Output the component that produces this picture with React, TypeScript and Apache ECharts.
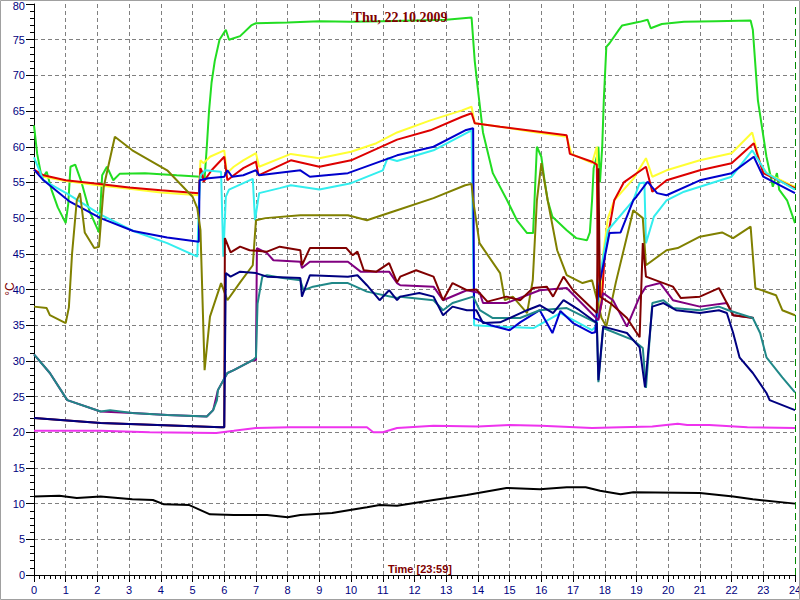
import React, { useEffect, useRef } from "react";
import * as echarts from "echarts";

type P = [number, number][];

const titleText = "Thu, 22.10.2009";
const xName = "Time [23:59]";
const yName = "°C";
const hourTicks = Array.from({ length: 25 }, (_, i) => i);
const yTopLabel = 80;

const green: P = [[0,63],[0.1,59],[0.25,55.5],[0.4,56.5],[0.55,54],[0.75,51.5],[1.0,49.3],[1.08,52],[1.15,57.2],[1.3,57.5],[1.5,55],[1.75,51],[2.05,48],[2.15,56],[2.3,57.2],[2.5,55.3],[2.7,56.2],[3.5,56.3],[4.5,56],[5.25,55.8],[5.38,55.6],[5.45,60],[5.52,65],[5.6,69],[5.7,72],[5.85,75],[6.05,76.4],[6.15,75],[6.5,75.5],[6.85,77],[7.0,77.3],[8,77.4],[9,77.6],[10,77.5],[11,77.6],[12,77.7],[13,77.8],[13.8,78.1],[13.9,72],[14.0,68],[14.16,62],[14.47,56.3],[14.92,52.5],[15.23,49.7],[15.55,47.9],[15.74,47.9],[15.8,54],[15.86,60],[16.0,58.6],[16.1,55.3],[16.2,52.5],[16.35,50.2],[16.8,48.3],[17.1,47.2],[17.44,46.9],[17.53,48],[17.6,52.5],[17.65,57],[17.75,58.6],[17.8,60],[17.85,55],[17.92,60],[17.97,66.5],[18.05,74],[18.15,74.5],[18.45,76.4],[18.55,77],[19.1,77.5],[19.35,77.8],[19.45,76.6],[19.8,77.2],[20.5,77.5],[21.5,77.6],[22.6,77.7],[22.67,76.4],[22.83,66.5],[23.1,58.6],[23.3,54.4],[23.43,56.3],[23.5,54],[23.75,52.5],[24,49.3]];

const yellow: P = [[0,56.7],[0.3,55.8],[1,55.2],[2,54.6],[3,54.1],[4,53.6],[5.2,53.2],[5.25,58.1],[5.35,57.7],[5.55,58.6],[6.0,59.5],[6.08,56.3],[6.3,57.2],[6.6,58.1],[7.0,59.1],[7.1,57.2],[8.1,59],[9.0,58.4],[10.0,59.3],[10.8,60.5],[11.45,62],[12.5,63.7],[13.5,65.1],[13.8,65.6],[13.9,63.3],[14.7,62.8],[15.7,62.1],[16.8,61.4],[16.95,59],[17.6,57.7],[17.75,60],[17.82,40],[17.85,36],[17.95,45],[18.1,50],[18.3,52.5],[18.6,54],[18.9,55.5],[19.3,58.4],[19.5,55.8],[19.95,56.7],[21,58.1],[22.0,59.1],[22.65,62],[22.9,57.7],[23.1,56.3],[23.9,54.6],[24,54.4]];

const red: P = [[0,56.8],[0.3,56],[1,55.3],[2,54.8],[3,54.3],[4,53.9],[5.2,53.5],[5.25,57],[5.3,56.5],[5.35,55.1],[5.6,56.7],[6.0,58.6],[6.1,55.3],[6.3,56],[6.6,57],[7.0,57.9],[7.08,56],[8.1,58.1],[9.0,57.2],[10.0,58.1],[11.45,61],[12.5,62.3],[13.5,64.2],[13.8,64.7],[13.9,63.3],[14.7,62.8],[16.8,61.6],[16.9,59],[17.6,57.9],[17.75,57.5],[17.8,36],[17.9,38],[18.0,45],[18.3,52.5],[18.6,55],[19.3,57.2],[19.5,53.7],[19.95,55.3],[21,56.7],[22,57.7],[22.7,60.5],[23.0,56.3],[23.9,54.4],[24,54.2]];

const cyan: P = [[0,58.5],[0.3,55.3],[1.1,53.3],[2.1,50.5],[3.13,48.2],[4.2,46.5],[5.15,44.6],[5.2,52],[5.25,56],[5.4,56.7],[5.9,56.5],[5.97,44.6],[6.05,53],[6.15,54],[6.9,55.5],[6.97,49.7],[7.1,53.5],[7.75,54.2],[8.1,54.6],[9.0,54],[10.0,54.9],[11.0,56.7],[11.15,58.4],[11.45,58],[12.6,59.5],[13.8,62.3],[13.88,35],[14.6,34.8],[15.75,34.6],[16.6,36.7],[17.6,34.3],[17.75,35],[17.85,42],[18.1,48.3],[18.9,52.5],[19.1,54.9],[19.25,55],[19.3,46.5],[19.55,50.2],[19.95,52.5],[20.5,53.7],[22.0,55.8],[22.65,59.5],[23.1,56.3],[24,54]];

const blue: P = [[0,56.8],[0.3,55.3],[1.13,52.3],[2.1,50],[3.13,48.2],[4.2,47.3],[5.2,46.7],[5.22,55.3],[5.5,55.6],[6.0,55.8],[6.1,56.7],[6.25,55.8],[6.6,56],[7.0,56.7],[7.1,56],[8.4,56.7],[8.7,55.8],[9.9,56.3],[11.45,58.8],[12.6,60],[13.6,62.3],[13.85,62.6],[13.88,36],[14.4,35],[15.0,34.3],[15.33,35.4],[15.95,37.1],[16.35,33.9],[16.6,37],[17.0,35.3],[17.6,33.9],[17.7,34],[17.8,40],[18.15,47.9],[18.5,48],[18.9,52.5],[19.0,53],[19.35,55.1],[19.65,53.5],[19.95,53.2],[21,55.3],[22,56.3],[22.7,58.6],[23.0,55.8],[24,53.5]];

const olive: P = [[0,37.6],[0.4,37.4],[0.5,36.4],[1.0,35.3],[1.1,37.5],[1.2,45],[1.35,52.5],[1.45,53.5],[1.6,48],[1.9,45.8],[2.05,46],[2.12,50],[2.2,54.4],[2.55,61.4],[3.1,59.5],[4.2,56.7],[5.0,53],[5.15,51.4],[5.25,48.3],[5.38,28.7],[5.55,36.2],[5.9,40.9],[6.1,38.5],[6.5,41],[6.9,43.4],[7.0,49.7],[7.3,50],[8.4,50.4],[9.9,50.4],[10.5,49.7],[11.45,51.1],[12.6,52.8],[13.6,54.6],[13.8,54.8],[13.85,52.5],[14.05,46.5],[14.7,42.3],[14.85,38.5],[15.1,39],[15.55,36.7],[15.73,41.3],[15.86,52.5],[16.0,57.7],[16.2,52.5],[16.5,45.5],[16.8,42],[17.3,40.9],[17.6,41.3],[17.9,36],[18.05,34.8],[18.35,41],[18.9,51.1],[19.2,50],[19.3,43.4],[19.95,45.5],[20.3,45.8],[21.0,47.4],[21.7,48],[22.05,47.2],[22.6,48.8],[22.75,40.2],[23.4,39.2],[23.6,37.1],[24,36.4]];

const maroon: P = [[0,22],[2.1,21.3],[5.9,20.7],[6.0,20.7],[6.02,47.2],[6.2,45.2],[6.5,46],[6.8,45.5],[7.35,45.3],[7.75,46],[8.4,45.5],[8.45,43.4],[8.7,45.8],[9.85,45.8],[10.05,44.8],[10.2,45.3],[10.4,42.7],[10.8,42.5],[11.2,43.7],[11.45,41],[11.55,41.8],[12.05,42.7],[12.6,41.8],[12.9,38.5],[13.2,40.9],[13.65,39.9],[13.95,40],[14.3,38.3],[14.9,39],[15.33,38.5],[15.74,40.2],[16.17,40.4],[16.37,39],[16.7,41.8],[17.0,39.9],[17.75,36.7],[17.8,57],[17.85,39],[18.2,38],[18.7,36],[19.1,33.3],[19.2,46.5],[19.3,41.8],[19.85,40.9],[20.15,40.4],[20.4,38.8],[21,39],[21.6,40.2],[21.85,38.1],[22.05,36.4],[22.7,36]];

const purple: P = [[0,30.9],[0.5,28.3],[1.05,24.5],[2.1,22.9],[3.1,22.7],[4.2,22.4],[5.45,22.2],[5.65,23.1],[5.8,25.9],[6.1,28.3],[6.3,28.7],[6.9,30.1],[7.0,30.1],[7.03,45.8],[7.35,45.1],[7.55,44.1],[8.4,43.9],[8.45,43],[8.7,43.9],[9.9,43.9],[10.3,42.5],[11.2,42.5],[11.45,40.9],[11.55,40.6],[12.6,40.4],[12.9,38.5],[13.65,39.9],[14.06,39.5],[14.16,38.1],[14.9,38.1],[15.95,39.9],[16.8,40.2],[17.8,35.7],[17.95,39.5],[18.26,38.5],[18.7,34.8],[19.1,39],[19.3,40.4],[19.75,40.9],[20.15,38.5],[21,37.6],[21.85,38.1],[22.05,36.4],[22.7,36]];

const navy: P = [[0,22],[2.1,21.3],[5.9,20.7],[6.0,20.7],[6.05,42.3],[6.2,41.8],[6.5,42.5],[7.0,42.3],[7.35,41.8],[8.4,41.6],[8.45,39],[8.7,42],[9.9,41.8],[10.2,42],[10.5,40.6],[10.9,38.5],[11.2,39.9],[11.45,38.5],[11.55,39],[12.15,39.5],[12.6,39],[12.9,36.4],[13.2,37.6],[13.65,37.1],[13.95,37.1],[14.16,35.3],[14.7,35.4],[15.55,37.1],[15.95,37.8],[16.37,36.7],[16.7,38.5],[17.2,37.1],[17.75,35.3],[17.8,27.3],[17.95,34.8],[18.7,33.9],[19.1,31.9],[19.27,26.3],[19.5,37.6],[19.85,38.1],[20.25,37.1],[21,36.7],[21.6,37.1],[21.85,36.7],[22.05,33.9],[22.25,30.5],[22.67,28.3],[23.1,25.5],[23.2,24.5],[24,23.1]];

const teal: P = [[0,30.9],[0.5,28.3],[1.05,24.5],[2.1,22.9],[2.4,23.1],[3.1,22.7],[4.2,22.4],[5.45,22.2],[5.65,23.1],[5.77,24.5],[5.8,25.9],[6.1,28.3],[6.3,28.7],[6.9,30.1],[7.0,30.5],[7.05,38],[7.2,41.8],[7.35,42],[7.85,41.6],[8.4,41.3],[8.5,39.9],[8.8,40.4],[9.4,40.9],[9.9,40.9],[10.5,39.7],[11.45,38.8],[11.55,39],[12.6,38.5],[12.9,37.1],[13.2,38.1],[13.85,39],[14.06,37.1],[14.47,36],[15.33,36],[15.95,37.1],[16.8,37.4],[17.75,35.3],[17.8,27],[17.95,34.6],[18.9,32.9],[19.2,31.8],[19.3,26.2],[19.5,38.1],[19.85,38.5],[20.15,37.4],[21,37.1],[21.6,37.6],[21.9,37.1],[22.67,36],[22.9,33.9],[23.1,30.5],[23.6,27.7],[24,25.6]];

const magenta: P = [[0,20.2],[2.1,20.2],[3.65,20],[5.75,19.9],[6.3,20.2],[7.0,20.6],[8.05,20.7],[10.5,20.7],[10.7,20],[11.0,20],[11.45,20.6],[12.6,20.9],[14,20.8],[15,21],[16,20.9],[17.6,20.6],[18.5,20.7],[19.5,20.8],[20.3,21.2],[20.6,21],[21.3,21],[22.5,20.7],[24,20.6]];

const black: P = [[0,11],[0.8,11.1],[1.35,10.8],[2.1,11],[3.1,10.6],[3.75,10.5],[4.1,9.9],[4.9,9.8],[5.25,9.1],[5.55,8.5],[6.3,8.4],[7.35,8.4],[8.0,8.1],[8.4,8.4],[9.4,8.7],[10.5,9.5],[10.9,9.8],[11.45,9.7],[12.6,10.5],[13.65,11.2],[14.9,12.2],[15.95,12],[16.8,12.3],[17.4,12.3],[17.85,11.8],[18.5,11.3],[18.9,11.6],[21,11.5],[22.05,11],[22.67,10.6],[24,10]];

const seriesList: { name: string; data: P; color: string }[] = [
  { name: "s1", data: green, color: "#22dd22" },
  { name: "s2", data: yellow, color: "#ffff33" },
  { name: "s3", data: red, color: "#dd0000" },
  { name: "s4", data: cyan, color: "#33eeee" },
  { name: "s5", data: blue, color: "#0000cc" },
  { name: "s6", data: olive, color: "#808000" },
  { name: "s7", data: purple, color: "#800080" },
  { name: "s8", data: maroon, color: "#800000" },
  { name: "s9", data: teal, color: "#208888" },
  { name: "s10", data: navy, color: "#000080" },
  { name: "s11", data: magenta, color: "#ee33ee" },
  { name: "s12", data: black, color: "#000000" },
];

export default function App() {
  const ref = useRef<HTMLDivElement>(null);
  useEffect(() => {
    if (!ref.current) return;
    const chart = echarts.init(ref.current, null, { renderer: "svg", width: 800, height: 600 });
    const labelColor = "#000080";
    const series: any[] = seriesList.map((s) => ({
      name: s.name,
      type: "line",
      data: s.data,
      symbol: "none",
      lineStyle: { width: 2, color: s.color },
      itemStyle: { color: s.color },
      z: 3,
    }));
    series[0].markLine = {
      silent: true,
      symbol: "none",
      label: { show: false },
      lineStyle: { color: "#008800", type: [7, 4], width: 1 },
      data: [{ xAxis: 24 }],
    };
    chart.setOption({
      animation: false,
      backgroundColor: "#ffffff",
      grid: {
        left: 34,
        right: 5,
        top: 4,
        bottom: 25,
        containLabel: false,
        outerBoundsMode: "none",
      },
      xAxis: {
        type: "value",
        min: 0,
        max: 24,
        interval: 1,
        axisLine: { show: true, onZero: false, lineStyle: { color: "#000000", width: 1 } },
        axisTick: { show: true, length: 7, lineStyle: { color: "#000000" } },
        minorTick: { show: true, splitNumber: 6, length: 4, lineStyle: { color: "#000000" } },
        axisLabel: {
          color: labelColor,
          fontSize: 11,
          fontFamily: "Liberation Sans",
          margin: 9,
          formatter: (v: number) => (hourTicks.includes(v) ? String(v) : ""),
        },
        splitLine: {
          show: true,
          showMinLine: false,
          showMaxLine: false,
          lineStyle: { color: "#808080", type: [4, 3], width: 1 },
        },
      },
      yAxis: {
        type: "value",
        min: 0,
        max: 80,
        interval: 5,
        axisLine: { show: true, onZero: false, lineStyle: { color: "#000000", width: 1 } },
        axisTick: { show: true, length: 8, lineStyle: { color: "#000000" } },
        minorTick: { show: true, splitNumber: 5, length: 4, lineStyle: { color: "#000000" } },
        axisLabel: {
          color: labelColor,
          fontSize: 11,
          fontFamily: "Liberation Sans",
          margin: 9,
          formatter: (v: number) => (v === yTopLabel ? "" : String(v)),
        },
        splitLine: {
          show: true,
          showMinLine: false,
          showMaxLine: false,
          lineStyle: { color: "#808080", type: [4, 3], width: 1 },
        },
      },
      graphic: [
        {
          type: "rect",
          shape: { x: 0.5, y: 0.5, width: 799, height: 599 },
          style: { fill: "none", stroke: "#a0a0a0", lineWidth: 1 },
          z: 100,
        },
        {
          type: "text",
          x: 25,
          y: 0,
          style: {
            text: String(yTopLabel),
            fill: labelColor,
            font: "11px 'Liberation Sans'",
            align: "right",
            verticalAlign: "top",
          },
          z: 100,
        },
        {
          type: "text",
          x: 400,
          y: 17,
          style: {
            text: titleText,
            fill: "#800000",
            font: "bold 14px 'Liberation Serif'",
            align: "center",
            verticalAlign: "middle",
          },
          z: 100,
        },
        {
          type: "text",
          x: 420,
          y: 569,
          style: {
            text: xName,
            fill: "#800000",
            font: "bold 11px 'Liberation Sans'",
            align: "center",
            verticalAlign: "middle",
          },
          z: 100,
        },
        {
          type: "text",
          x: 10,
          y: 289,
          rotation: Math.PI / 2,
          style: {
            text: yName,
            fill: "#800000",
            font: "12px 'Liberation Sans'",
            align: "center",
            verticalAlign: "middle",
          },
          z: 100,
        },
      ],
      series,
    });
    return () => chart.dispose();
  }, []);
  return (
    <div
      ref={ref}
      style={{ position: "fixed", left: 0, top: 0, width: 800, height: 600 }}
    />
  );
}
